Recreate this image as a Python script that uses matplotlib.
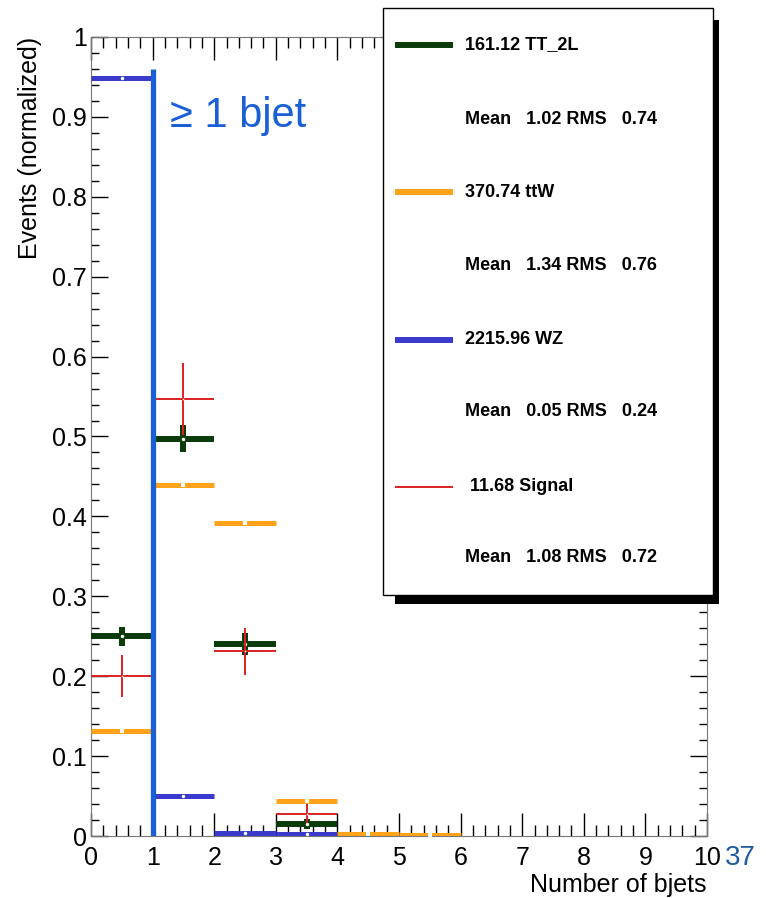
import matplotlib.pyplot as plt
from matplotlib.ticker import MultipleLocator, FuncFormatter
from matplotlib.patches import Rectangle

plt.rcParams['font.family'] = ['Liberation Sans', 'DejaVu Sans']

# bin centres of the b-jet multiplicity histogram
bin_centers = [0.5, 1.5, 2.5, 3.5, 4.5, 5.5]

# normalized contents per sample
wz = [0.949, 0.050, 0.004, 0.002]
ttw = [0.131, 0.439, 0.392, 0.044, 0.003, 0.001]
tt2l = [0.250, 0.497, 0.240, 0.015]
tt2l_err = [0.012, 0.017, 0.014, 0.006]
signal = [0.200, 0.547, 0.231, 0.028]
signal_err = [0.026, 0.045, 0.029, 0.012]

# legend (stat box) content
legend_titles = ["161.12 TT_2L", "370.74 ttW", "2215.96 WZ", " 11.68 Signal"]
legend_means = [1.02, 1.34, 0.05, 1.08]
legend_rms = [0.74, 0.76, 0.24, 0.72]

c_green = '#0b3a0b'
c_orange = '#ffa31a'
c_blue = '#3a3acc'
c_red = '#dd2020'
c_cut = '#1a5fd6'

fig = plt.figure(figsize=(7.66, 8.98), dpi=100)
ax = fig.add_axes([91 / 766, 1 - 836 / 898, (707 - 91) / 766, (836 - 37) / 898])


def draw_hist(vals, color, lw, errs=None, marker='s', ms=2.5, z=3):
    x = bin_centers[:len(vals)]
    ax.errorbar(x, vals, xerr=0.5, yerr=errs, fmt=marker, ms=ms,
                mfc='white', mec='white', mew=0, ecolor=color,
                elinewidth=lw, capsize=0, zorder=z)


draw_hist(wz, c_blue, 3.6, marker='o', ms=2.5, z=3)
draw_hist(ttw, c_orange, 3.6, marker='s', ms=2.6, z=4)
draw_hist(tt2l, c_green, 4.3, errs=tt2l_err, marker='o', ms=2.5, z=5)
draw_hist(signal, c_red, 1.4, errs=signal_err, marker='o', ms=1.2, z=6)

# cut line at 1 b-jet
ax.plot([1, 1], [0, 0.96], color=c_cut, lw=3.8, solid_capstyle='butt', zorder=10)
ax.text(1.28, 0.901, '\u2265 1 bjet', color=c_cut, fontsize=30, va='center', ha='left')

ax.set_xlim(0, 10)
ax.set_ylim(0, 1)
ax.xaxis.set_major_locator(MultipleLocator(1))
ax.xaxis.set_minor_locator(MultipleLocator(0.2))
ax.yaxis.set_major_locator(MultipleLocator(0.1))
ax.yaxis.set_minor_locator(MultipleLocator(0.02))
ax.yaxis.set_major_formatter(FuncFormatter(lambda v, p: f'{v:g}'))
ax.xaxis.set_major_formatter(FuncFormatter(lambda v, p: f'{v:g}'))

ax.tick_params(axis='x', which='both', direction='in', top=True, labelsize=18, pad=7, width=1)
ax.tick_params(axis='x', which='major', length=16.5)
ax.tick_params(axis='x', which='minor', length=8)
ax.tick_params(axis='y', which='both', direction='in', right=True, labelsize=18, pad=3, width=1)
ax.tick_params(axis='y', which='major', length=12.5)
ax.tick_params(axis='y', which='minor', length=5.8)
for sp in ax.spines.values():
    sp.set_color('#777777')

fig.text(30 / 766, 1 - 37 / 898, 'Events (normalized)', rotation=90, fontsize=18,
         ha='center', va='top')
fig.text(707 / 766, 1 - 885 / 898, 'Number of bjets', fontsize=18, ha='right', va='center')
fig.text(725 / 766, 1 - 858 / 898, '37', fontsize=20, color='#1f5c9e', ha='left', va='center')

# stat/legend box drawn in pixel coordinates
lax = fig.add_axes([0, 0, 1, 1], zorder=5)
lax.set_xlim(0, 766)
lax.set_ylim(898, 0)
lax.axis('off')
lax.add_patch(Rectangle((395, 20), 324, 584, facecolor='black', edgecolor='none'))
lax.add_patch(Rectangle((383, 8), 330, 587, facecolor='white', edgecolor='black', lw=1))

colors = [c_green, c_orange, c_blue, c_red]
widths = [4.3, 4.3, 4.3, 1.4]
for i in range(4):
    y_title = 45 + i * 147.3
    y_stat = 120 + i * 146
    lax.plot([395, 453], [y_title, y_title], color=colors[i], lw=widths[i], solid_capstyle='butt')
    lax.text(465, y_title, legend_titles[i], fontsize=13, fontweight='bold', va='center')
    lax.text(465, y_stat, f'Mean   {legend_means[i]:.2f} RMS   {legend_rms[i]:.2f}',
             fontsize=13, fontweight='bold', va='center')

fig.savefig('out.png', dpi=100)
